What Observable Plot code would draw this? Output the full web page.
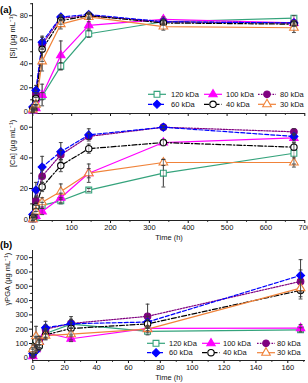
<!DOCTYPE html>
<html>
<head>
<meta charset="utf-8">
<script src="https://cdn.jsdelivr.net/npm/d3@7"></script>
<script src="https://cdn.jsdelivr.net/npm/@observablehq/plot@0.6"></script>
<style>
  html, body { margin: 0; padding: 0; background: #fff; }
  #chart { position: relative; width: 308px; height: 383px; overflow: hidden;
           font-family: "Liberation Sans", Arial, Helvetica, sans-serif; }
  #chart svg { position: absolute; left: 0; }
  .tag { position: absolute; left: 0; font: bold 9.5px "Liberation Sans", Arial, sans-serif; }
</style>
</head>
<body>
<div id="chart"></div>
<script>
// Series (molecular weight of the polymer)
const seriesNames = ["120 kDa", "100 kDa", "80 kDa", "60 kDa", "40 kDa", "30 kDa"];

// (a) dissolution over four weeks
const timeA = [0, 8, 24, 72, 144, 336, 672];
const siMean = [
  [1, 4, 13, 38, 65, 75, 78],
  [1, 3, 14, 47, 72, 77, 74],
  [3, 15, 56, 78, 80, 75, 74],
  [4, 18, 58, 79, 81, 75, 74],
  [2, 11, 52, 76, 80, 74, 73],
  [2, 6, 42, 73, 79, 71, 70]
];
const siErr = [
  [1, 2, 3, 3, 3, 2, 2],
  [1, 2, 9, 12, 3, 2, 2],
  [1, 3, 4, 2, 2, 2, 2],
  [2, 4, 5, 2, 2, 2, 2],
  [1, 5, 10, 3, 2, 2, 2],
  [1, 3, 8, 4, 2, 3, 4]
];
const caMean = [
  [0, 1, 9, 12, 19, 30, 43],
  [0, 2, 5, 14, 30, 50, 53],
  [2, 12, 28, 42, 54, 60, 57],
  [3, 19, 34, 44, 55, 60, 54],
  [1, 8, 21, 35, 46, 50, 47],
  [0, 5, 11, 18, 30, 37, 37]
];
const caErr = [
  [1, 1, 2, 2, 1, 9, 7],
  [1, 1, 2, 3, 3, 2, 2],
  [1, 3, 4, 3, 2, 1, 2],
  [1, 5, 7, 6, 4, 1, 2],
  [1, 3, 3, 4, 3, 2, 2],
  [1, 2, 3, 5, 6, 2, 3]
];

// (b) polymer release over one week
const timeB = [0, 2, 4, 8, 24, 72, 168];
const pgaMean = [
  [40, 110, 90, 170, 235, 185, 195],
  [10, 60, 110, 175, 133, 205, 207],
  [20, 70, 120, 200, 240, 290, 534],
  [30, 50, 100, 210, 238, 250, 576],
  [50, 120, 80, 160, 205, 237, 471],
  [60, 150, 110, 155, 165, 200, 487]
];
const pgaErr = [
  [20, 30, 30, 30, 30, 25, 15],
  [10, 20, 20, 30, 20, 15, 25],
  [10, 20, 30, 30, 30, 85, 80],
  [10, 20, 30, 45, 50, 40, 110],
  [20, 30, 30, 30, 40, 30, 60],
  [30, 70, 40, 30, 40, 25, 60]
];

// Tick values
const ticksTimeA = [0, 100, 200, 300, 400, 500, 600, 700];
const ticksTimeAMinor = [50, 150, 250, 350, 450, 550, 650];
const ticksSi = [0, 20, 40, 60, 80];
const ticksSiMinor = [10, 30, 50, 70, 90];
const ticksCa = [0, 20, 40, 60];
const ticksCaMinor = [10, 30, 50];
const ticksTimeB = [0, 20, 40, 60, 80, 100, 120, 140, 160];
const ticksTimeBMinor = [10, 30, 50, 70, 90, 110, 130, 150, 170];
const ticksPga = [0, 100, 200, 300, 400, 500, 600, 700];
const ticksPgaMinor = [50, 150, 250, 350, 450, 550, 650];

// Series styling
const seriesColor = ["#35a37c", "#ff00ff", "#800080", "#0000ff", "#000000", "#f0833a"];
const seriesSymbol = ["square", "triangle", "circle", "diamond2", "circle", "triangle"];
const seriesD3Symbol = [d3.symbolSquare, d3.symbolTriangle, d3.symbolCircle, d3.symbolDiamond2, d3.symbolCircle, d3.symbolTriangle];
const seriesFilled = [false, true, true, true, false, false];
const seriesDash = [null, null, "1.6,1.3", "4,2", "5,2,1.5,2", null];
const seriesR = [3.3, 3.1, 3.3, 3.6, 3.2, 3.2];

const font = '"Liberation Sans", Arial, Helvetica, sans-serif';
const barColor = "#3a3a3a";

// horizontal cap drawn at the ends of each error bar
const capSymbol = {
  draw(ctx, size) {
    const w = Math.sqrt(size) / 2;
    ctx.moveTo(-w, 0);
    ctx.lineTo(w, 0);
  }
};

function seriesRows(times, means, errs) {
  return means.map((vals, i) =>
    vals.map((v, j) => ({series: seriesNames[i], t: times[j], v, e: errs[i][j]})));
}

function panel(cfg) {
  const groups = seriesRows(cfg.times, cfg.means, cfg.errs);
  const bars = groups.flat().filter(d => d.e > 0);
  const marks = [
    Plot.axisY(cfg.yMajor, {tickSize: 3, tickPadding: 1.5, label: null}),
    Plot.axisY(cfg.yMinor, {tickSize: 1.8, tickFormat: () => "", label: null}),
    Plot.axisX(cfg.xMajor, {tickSize: 3, tickPadding: 1.5, label: null,
      ...(cfg.xTickLabels ? {} : {tickFormat: () => ""})}),
    Plot.axisX(cfg.xMinor, {tickSize: 1.8, tickFormat: () => "", label: null}),
    Plot.ruleX([cfg.xDomain[0]], {stroke: "#222"}),
    Plot.ruleY([cfg.yDomain[0]], {stroke: "#222"}),
    ...groups.map((g, i) => Plot.line(g, {
      x: "t", y: "v", stroke: seriesColor[i], strokeWidth: 1.2,
      ...(seriesDash[i] ? {strokeDasharray: seriesDash[i]} : {})
    })),
    Plot.ruleX(bars, {x: "t", y1: d => d.v - d.e, y2: d => d.v + d.e, stroke: barColor, strokeWidth: 0.9}),
    ...groups.map((g, i) => Plot.dot(g, {
      x: "t", y: "v", symbol: seriesSymbol[i], r: seriesR[i],
      fill: seriesFilled[i] ? seriesColor[i] : "white",
      stroke: seriesColor[i], strokeWidth: 1.1
    })),
    Plot.ruleX(bars, {x: "t", y1: d => d.v - d.e, y2: d => d.v + d.e, stroke: barColor, strokeWidth: 0.7, strokeOpacity: 0.6}),
    Plot.dot(bars, {x: "t", y: d => d.v + d.e, symbol: capSymbol, r: 2.2, stroke: barColor, strokeWidth: 0.9}),
    Plot.dot(bars, {x: "t", y: d => d.v - d.e, symbol: capSymbol, r: 2.2, stroke: barColor, strokeWidth: 0.9}),
    Plot.text([cfg.yTitle], {text: d => d, frameAnchor: "left", rotate: -90, dx: cfg.yTitleDx, fontSize: 7.5})
  ];
  if (cfg.xTitle) marks.push(Plot.text([cfg.xTitle], {text: d => d, frameAnchor: "bottom", dy: 19, fontSize: 7.5}));
  const svg = Plot.plot({
    width: 308,
    height: cfg.height,
    marginLeft: 32,
    marginRight: 3,
    marginTop: cfg.marginTop,
    marginBottom: cfg.marginBottom,
    style: {background: "transparent", fontFamily: font, fontSize: "7.5px", overflow: "visible", color: "#111"},
    x: {domain: cfg.xDomain},
    y: {domain: cfg.yDomain},
    marks
  });
  svg.style.top = cfg.top + "px";
  return svg;
}

function legend(svg, rowY, markerX, textX) {
  const g = d3.select(svg).append("g")
    .attr("font-family", font).attr("font-size", 7.5).attr("fill", "#111")
    .attr("text-anchor", "start");
  seriesNames.forEach((name, i) => {
    const row = Math.floor(i / 3), col = i % 3;
    const y = rowY[row], cx = markerX[col];
    const ln = g.append("line")
      .attr("x1", cx - 9).attr("x2", cx + 9).attr("y1", y).attr("y2", y)
      .attr("stroke", seriesColor[i]).attr("stroke-width", 1.2);
    if (seriesDash[i]) ln.attr("stroke-dasharray", seriesDash[i]);
    g.append("path")
      .attr("transform", `translate(${cx},${y})`)
      .attr("d", d3.symbol(seriesD3Symbol[i], Math.PI * seriesR[i] * seriesR[i])())
      .attr("fill", seriesFilled[i] ? seriesColor[i] : "white")
      .attr("stroke", seriesColor[i]).attr("stroke-width", 1.1);
    g.append("text").attr("x", textX[col]).attr("y", y).attr("dy", "0.34em")
      .attr("text-anchor", "start").text(name);
  });
}

const chart = document.getElementById("chart");

const si = panel({
  times: timeA, means: siMean, errs: siErr,
  top: 0, height: 120, marginTop: 3, marginBottom: 7,
  xDomain: [-0.8, 701.8], yDomain: [-1.4, 90.2],
  xMajor: ticksTimeA, xMinor: ticksTimeAMinor, xTickLabels: false,
  yMajor: ticksSi, yMinor: ticksSiMinor,
  yTitle: "[Si] (µg mL⁻¹)", yTitleDx: -20
});
legend(si, [94.3, 104.3], [157, 213, 267], [171, 226, 280]);

const ca = panel({
  times: timeA, means: caMean, errs: caErr,
  top: 108, height: 137, marginTop: 5, marginBottom: 25,
  xDomain: [-0.8, 701.8], yDomain: [-0.85, 68.95],
  xMajor: ticksTimeA, xMinor: ticksTimeAMinor, xTickLabels: true,
  yMajor: ticksCa, yMinor: ticksCaMinor,
  yTitle: "[Ca] (µg mL⁻¹)", yTitleDx: -20, xTitle: "Time (h)"
});

const pga = panel({
  times: timeB, means: pgaMean, errs: pgaErr,
  top: 245, height: 138, marginTop: 5, marginBottom: 23,
  xDomain: [-0.2, 171.1], yDomain: [-18.9, 750],
  xMajor: ticksTimeB, xMinor: ticksTimeBMinor, xTickLabels: true,
  yMajor: ticksPga, yMinor: ticksPgaMinor,
  yTitle: "γPGA (µg mL⁻¹)", yTitleDx: -25, xTitle: "Time (h)"
});
legend(pga, [98.3, 107.7], [156, 211, 266], [169, 223, 277]);

chart.append(si, ca, pga);

for (const [label, top] of [["(a)", 4], ["(b)", 239]]) {
  const el = document.createElement("div");
  el.className = "tag";
  el.style.top = top + "px";
  el.textContent = label;
  chart.append(el);
}
</script>
</body>
</html>
